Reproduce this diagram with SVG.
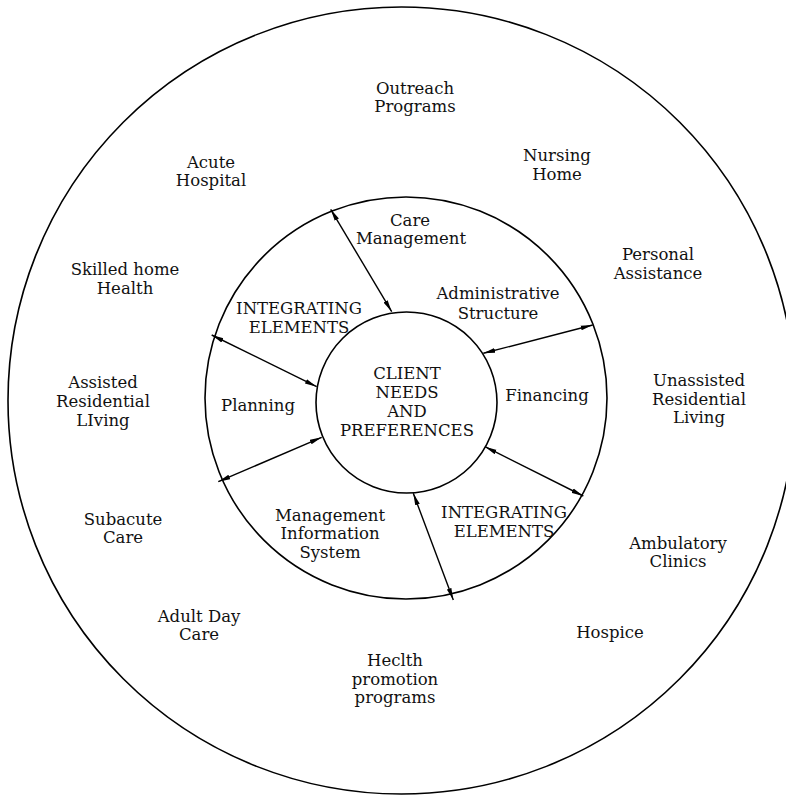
<svg xmlns="http://www.w3.org/2000/svg" width="786" height="796" viewBox="0 0 786 796">
<defs>
<style>
.ring{fill:none;stroke:#000;stroke-width:1.6}
.con{stroke:#000;stroke-width:1.4;fill:none;marker-start:url(#ah);marker-end:url(#ah)}
text{font-family:"DejaVu Serif","Liberation Serif",serif;font-size:16.5px;fill:#111;text-anchor:middle}
</style>
<marker id="ah" viewBox="0 0 12 6" refX="12" refY="3" markerWidth="12" markerHeight="6" markerUnits="userSpaceOnUse" orient="auto-start-reverse">
<path d="M0,0.6 L12,3 L0,5.4 Z" fill="#000"/>
</marker>
</defs>
<rect width="786" height="796" fill="#fff"/>
<g id="outer-ring"><circle class="ring" cx="401.5" cy="400.5" r="393.5"/></g>
<g id="middle-ring"><circle class="ring" cx="406" cy="398" r="201"/></g>
<g id="client-needs">
<circle class="ring" cx="406.5" cy="402.5" r="90.5"/>
<text x="407" y="379">CLIENT</text>
<text x="407" y="398">NEEDS</text>
<text x="407" y="417">AND</text>
<text x="407" y="436">PREFERENCES</text>
</g>
<g id="connectors">
<line class="con" x1="330.7" y1="209.3" x2="391.7" y2="311.7"/>
<line class="con" x1="211.7" y1="335" x2="316.7" y2="386.7"/>
<line class="con" x1="218.3" y1="481.7" x2="321.7" y2="437.3"/>
<line class="con" x1="413.3" y1="493.3" x2="453.3" y2="600"/>
<line class="con" x1="485" y1="446.7" x2="583.3" y2="496"/>
<line class="con" x1="483.3" y1="353.3" x2="592.7" y2="325"/>
</g>
<g id="care-management"><text x="410" y="226">Care</text><text x="411" y="244">Management</text></g>
<g id="administrative-structure"><text x="498" y="299">Administrative</text><text x="498" y="319">Structure</text></g>
<g id="integrating-elements-1"><text x="299" y="314">INTEGRATING</text><text x="299" y="333">ELEMENTS</text></g>
<g id="planning"><text x="258" y="411">Planning</text></g>
<g id="financing"><text x="547" y="401">Financing</text></g>
<g id="management-information-system"><text x="330" y="521">Management</text><text x="330" y="539">Information</text><text x="330" y="558">System</text></g>
<g id="integrating-elements-2"><text x="504" y="518">INTEGRATING</text><text x="504" y="537">ELEMENTS</text></g>
<g id="outreach-programs"><text x="415" y="94">Outreach</text><text x="415" y="112">Programs</text></g>
<g id="nursing-home"><text x="557" y="161">Nursing</text><text x="557" y="180">Home</text></g>
<g id="acute-hospital"><text x="211" y="168">Acute</text><text x="211" y="186">Hospital</text></g>
<g id="skilled-home-health"><text x="125" y="275">Skilled home</text><text x="125" y="294">Health</text></g>
<g id="personal-assistance"><text x="658" y="260">Personal</text><text x="658" y="279">Assistance</text></g>
<g id="assisted-residential-living"><text x="103" y="388">Assisted</text><text x="103" y="407">Residential</text><text x="103" y="426">LIving</text></g>
<g id="unassisted-residential-living"><text x="699" y="386">Unassisted</text><text x="699" y="405">Residential</text><text x="699" y="423">Living</text></g>
<g id="subacute-care"><text x="123" y="525">Subacute</text><text x="123" y="543">Care</text></g>
<g id="ambulatory-clinics"><text x="678" y="549">Ambulatory</text><text x="678" y="567">Clinics</text></g>
<g id="adult-day-care"><text x="199" y="622">Adult Day</text><text x="199" y="640">Care</text></g>
<g id="hospice"><text x="610" y="638">Hospice</text></g>
<g id="health-promotion-programs"><text x="395" y="666">Heclth</text><text x="395" y="685">promotion</text><text x="395" y="703">programs</text></g>
</svg>
